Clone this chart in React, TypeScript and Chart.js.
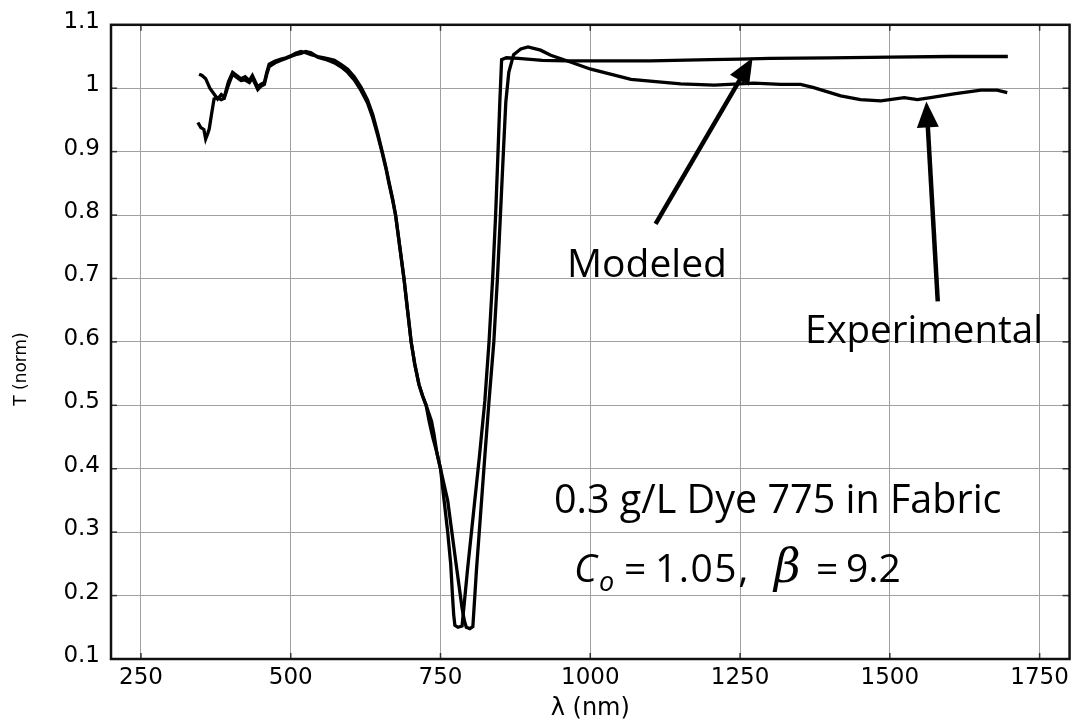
import React, { useEffect, useRef } from "react";
import { Chart, registerables } from "chart.js";

Chart.register(...registerables);

// ---- data ----
const X_TICKS = [250, 500, 750, 1000, 1250, 1500, 1750];
const Y_TICKS = [0.1, 0.2, 0.3, 0.4, 0.5, 0.6, 0.7, 0.8, 0.9, 1.0, 1.1];
const Y_TICK_LABELS = ["0.1", "0.2", "0.3", "0.4", "0.5", "0.6", "0.7", "0.8", "0.9", "1", "1.1"];

const X_TITLE = "λ (nm)";
const Y_TITLE = "T (norm)";

const MODELED: [number, number][] = [
  [347, 1.022], [352, 1.02], [358, 1.015], [365, 1.0], [372, 0.991], [378, 0.983], [384, 0.99], [389, 0.986],
  [396, 1.01], [403, 1.025], [410, 1.02], [417, 1.015], [424, 1.018], [431, 1.012], [436, 1.02], [441, 1.01],
  [445, 1.002], [450, 1.006], [456, 1.009], [460, 1.025], [464, 1.038], [474, 1.043], [484, 1.046], [492, 1.048],
  [500, 1.051], [508, 1.055], [517, 1.058], [525, 1.056], [534, 1.053], [545, 1.05], [556, 1.048], [565, 1.046],
  [573, 1.044], [585, 1.037], [595, 1.03], [606, 1.018], [617, 1.002], [628, 0.982], [637, 0.958], [645, 0.93],
  [653, 0.899], [659, 0.875], [664, 0.852], [670, 0.826], [675, 0.8], [682, 0.75], [689, 0.7], [695, 0.65],
  [701, 0.6], [707, 0.565], [714, 0.533], [720, 0.515], [726, 0.5], [731, 0.475], [737, 0.45], [744, 0.425],
  [750, 0.4], [756, 0.35], [762, 0.3], [767, 0.25], [770, 0.2], [772, 0.17], [774, 0.153], [779, 0.15],
  [786, 0.152], [795, 0.24], [805, 0.33], [815, 0.42], [824, 0.507], [831, 0.6], [837, 0.7], [842, 0.8],
  [846, 0.9], [849, 0.978], [852, 1.045], [860, 1.048], [880, 1.047], [920, 1.044], [960, 1.043], [1000, 1.043],
  [1100, 1.043], [1200, 1.045], [1250, 1.046], [1300, 1.047], [1400, 1.048], [1500, 1.049], [1600, 1.05], [1697, 1.05],
];

const EXPERIMENTAL: [number, number][] = [
  [345, 0.946], [350, 0.938], [355, 0.935], [358, 0.92], [362, 0.93], [364, 0.936], [368, 0.96], [372, 0.983],
  [378, 0.985], [384, 0.982], [389, 0.984], [396, 1.005], [403, 1.022], [410, 1.017], [417, 1.012], [424, 1.013],
  [431, 1.009], [436, 1.016], [441, 1.006], [445, 0.998], [450, 1.003], [456, 1.006], [460, 1.022], [464, 1.034],
  [474, 1.04], [484, 1.044], [492, 1.047], [500, 1.05], [508, 1.053], [517, 1.055], [525, 1.058], [534, 1.056],
  [545, 1.049], [556, 1.046], [565, 1.043], [573, 1.04], [585, 1.033], [595, 1.025], [606, 1.013], [617, 0.997],
  [628, 0.977], [637, 0.953], [645, 0.926], [653, 0.897], [659, 0.873], [664, 0.85], [670, 0.824], [675, 0.8],
  [682, 0.75], [689, 0.7], [695, 0.65], [701, 0.6], [707, 0.565], [714, 0.533], [720, 0.515], [726, 0.5],
  [735, 0.475], [739, 0.455], [744, 0.425], [750, 0.4], [762, 0.35], [769, 0.3], [776, 0.25], [782, 0.208],
  [786, 0.18], [790, 0.16], [793, 0.15], [799, 0.148], [804, 0.151], [810, 0.24], [817, 0.33], [824, 0.42],
  [831, 0.507], [839, 0.6], [845, 0.7], [850, 0.8], [855, 0.9], [859, 0.978], [864, 1.025], [872, 1.053],
  [884, 1.062], [896, 1.065], [917, 1.06], [934, 1.052], [962, 1.043], [1001, 1.03], [1068, 1.014], [1151, 1.007],
  [1207, 1.005], [1273, 1.008], [1318, 1.006], [1351, 1.006], [1373, 1.001], [1418, 0.988], [1451, 0.982], [1485, 0.98],
  [1524, 0.985], [1546, 0.982], [1568, 0.985], [1607, 0.991], [1652, 0.997], [1679, 0.997], [1696, 0.993],
];

// arrows: [tailX, tailT, tipX, tipT] in data units
const MODELED_ARROW = [1109, 0.786, 1271, 1.048];
const EXPERIMENTAL_ARROW = [1580, 0.664, 1561, 0.979];

const LABEL_MODELED = "Modeled";
const LABEL_EXPERIMENTAL = "Experimental";
const LABEL_SAMPLE = "0.3 g/L Dye 775 in Fabric";

const annotationPlugin = {
  id: "annotations",
  afterDraw(chart: any) {
    const ctx: any = chart.ctx;
    const { left, right, top, bottom } = chart.chartArea;
    const xs = chart.scales.x;
    const ys = chart.scales.y;
    ctx.save();

    const seg = (x1: number, y1: number, x2: number, y2: number) => {
      ctx.beginPath();
      ctx.moveTo(x1, y1);
      ctx.lineTo(x2, y2);
      ctx.stroke();
    };

    // inward tick marks
    ctx.strokeStyle = "#333";
    ctx.lineWidth = 1.5;
    X_TICKS.forEach((v) => {
      const px = xs.getPixelForValue(v);
      seg(px, bottom, px, bottom - 6);
      seg(px, top, px, top + 6);
    });
    Y_TICKS.forEach((v) => {
      const py = ys.getPixelForValue(v);
      seg(left, py, left + 6, py);
      seg(right, py, right - 7, py);
    });

    // frame
    ctx.strokeStyle = "#111";
    ctx.lineWidth = 2.5;
    ctx.strokeRect(left, top, right - left, bottom - top);

    // arrows
    const arrow = (a: number[]) => {
      const x1 = xs.getPixelForValue(a[0]);
      const y1 = ys.getPixelForValue(a[1]);
      const x2 = xs.getPixelForValue(a[2]);
      const y2 = ys.getPixelForValue(a[3]);
      const dx = x2 - x1, dy = y2 - y1;
      const len = Math.hypot(dx, dy);
      const ux = dx / len, uy = dy / len;
      const hl = 26, hw = 11;
      const bx = x2 - ux * hl, by = y2 - uy * hl;
      ctx.strokeStyle = "#000";
      ctx.lineWidth = 4.5;
      ctx.lineCap = "butt";
      seg(x1, y1, bx + ux * 4, by + uy * 4);
      ctx.fillStyle = "#000";
      ctx.beginPath();
      ctx.moveTo(x2, y2);
      ctx.lineTo(bx - uy * hw, by + ux * hw);
      ctx.lineTo(bx + uy * hw, by - ux * hw);
      ctx.closePath();
      ctx.fill();
    };
    arrow(MODELED_ARROW);
    arrow(EXPERIMENTAL_ARROW);

    // texts
    ctx.fillStyle = "#000";
    ctx.textAlign = "left";
    ctx.textBaseline = "alphabetic";
    ctx.font = '39px "Open Sans"';
    ctx.fillText(LABEL_MODELED, 567, 277);
    ctx.font = '38.5px "Open Sans"';
    ctx.fillText(LABEL_EXPERIMENTAL, 805, 343);
    ctx.font = '39.5px "Open Sans"';
    ctx.fillText(LABEL_SAMPLE, 554, 513);

    ctx.font = 'italic 39px "Open Sans"';
    ctx.fillText("C", 574, 582);
    ctx.font = 'italic 27px "Open Sans"';
    ctx.fillText("o", 599, 591);
    ctx.font = '39px "Open Sans"';
    ctx.fillText("=", 624, 582);
    ctx.letterSpacing = "1.5px";
    ctx.fillText("1.05,", 655, 582);
    ctx.letterSpacing = "0px";
    ctx.font = 'italic 46px "DejaVu Serif"';
    ctx.fillText("β", 774, 582);
    ctx.font = '39px "Open Sans"';
    ctx.fillText("=", 816, 582);
    ctx.fillText("9.2", 846, 582);

    // y axis title
    ctx.translate(22, 369);
    ctx.rotate(-Math.PI / 2);
    ctx.font = '17px "DejaVu Sans"';
    ctx.textAlign = "center";
    ctx.textBaseline = "middle";
    ctx.fillText(Y_TITLE, 0, 0);

    ctx.restore();
  },
};

const whiteBg = {
  id: "whiteBg",
  beforeDraw(chart: any) {
    const ctx = chart.ctx;
    ctx.save();
    ctx.fillStyle = "#fff";
    ctx.fillRect(0, 0, chart.width, chart.height);
    ctx.restore();
  },
};

export default function App() {
  const ref = useRef<HTMLCanvasElement | null>(null);

  useEffect(() => {
    if (!ref.current) return;
    const chart = new Chart(ref.current, {
      type: "line",
      data: {
        datasets: [
          {
            label: LABEL_MODELED,
            data: MODELED.map(([x, y]) => ({ x, y })),
            borderColor: "#000",
            borderWidth: 3.3,
            pointRadius: 0,
            tension: 0,
            fill: false,
          },
          {
            label: LABEL_EXPERIMENTAL,
            data: EXPERIMENTAL.map(([x, y]) => ({ x, y })),
            borderColor: "#000",
            borderWidth: 3.3,
            pointRadius: 0,
            tension: 0,
            fill: false,
          },
        ],
      },
      options: {
        responsive: false,
        animation: false,
        events: [],
        layout: { padding: { left: 0, top: 22, right: 4, bottom: 0 } },
        plugins: {
          legend: { display: false },
          tooltip: { enabled: false },
          title: { display: false },
        },
        scales: {
          x: {
            type: "linear",
            min: 200,
            max: 1800,
            afterBuildTicks: (scale: any) => {
              scale.ticks = X_TICKS.map((v) => ({ value: v }));
            },
            afterFit: (scale: any) => {
              scale.height = 66;
            },
            grid: { color: "#a0a0a0", lineWidth: 1, drawTicks: false },
            border: { display: false },
            ticks: {
              color: "#000",
              font: { family: "DejaVu Sans", size: 23 },
              padding: 5,
              maxRotation: 0,
              autoSkip: false,
              callback: (v: any) => String(v),
            },
            title: {
              display: true,
              text: X_TITLE,
              color: "#000",
              font: { family: "DejaVu Sans", size: 24 },
              padding: { top: 0, bottom: 2 },
            },
          },
          y: {
            type: "linear",
            min: 0.1,
            max: 1.1,
            afterBuildTicks: (scale: any) => {
              scale.ticks = Y_TICKS.map((v) => ({ value: v }));
            },
            afterFit: (scale: any) => {
              scale.width = 111;
            },
            grid: { color: "#a0a0a0", lineWidth: 1, drawTicks: false },
            border: { display: false },
            ticks: {
              color: "#000",
              font: { family: "DejaVu Sans", size: 23 },
              padding: 11,
              labelOffset: -3,
              autoSkip: false,
              callback: (_v: any, i: number) => Y_TICK_LABELS[i],
            },
          },
        },
      },
      plugins: [whiteBg, annotationPlugin],
    });
    return () => chart.destroy();
  }, []);

  return (
    <div style={{ position: "absolute", left: 0, top: 0, width: 1074, height: 725, background: "#fff" }}>
      <canvas ref={ref} width={1074} height={725} style={{ display: "block" }} />
    </div>
  );
}
